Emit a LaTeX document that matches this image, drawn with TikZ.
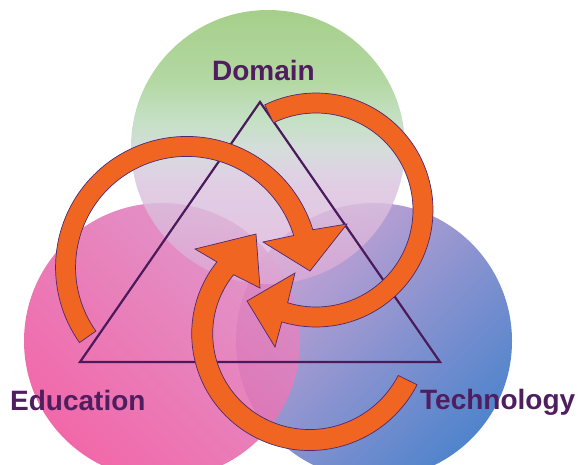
\documentclass[tikz,border=0pt]{standalone}
\usepackage{fontspec}
\setmainfont{Liberation Sans}
\usetikzlibrary{fadings}
\definecolor{labelpurple}{HTML}{501E5F}
\definecolor{tripurple}{HTML}{4B1A5B}
\definecolor{arroworange}{HTML}{F16522}
\definecolor{arrowedge}{HTML}{4E2870}
\definecolor{tb0}{HTML}{A6CF8A}
\definecolor{tb1}{HTML}{AED59C}
\definecolor{tb2}{HTML}{BEDDBE}
\definecolor{tb3}{HTML}{CFD8D6}
\definecolor{tb4}{HTML}{DAC6E0}
\definecolor{tb5}{HTML}{DEAAD6}
\definecolor{lc1}{HTML}{DC8CC6}
\definecolor{lc2}{HTML}{F058A0}
\definecolor{rc1}{HTML}{CCA4D4}
\definecolor{rc2}{HTML}{5084CC}
\pgfdeclareverticalshading{topshade}{100bp}{color(0bp)=(tb5); color(25bp)=(tb5); color(44bp)=(tb4); color(49.5bp)=(tb3); color(55bp)=(tb2); color(62bp)=(tb1); color(75bp)=(tb0); color(100bp)=(tb0)}
\tikzfading[name=topcirclefade, top color=transparent!0, middle color=transparent!0, bottom color=transparent!25]
\newcommand{\spiralarrow}[8]{%
  \filldraw[arrowpart]
   plot[domain=#3:#4, samples=100] ({#1+(#5+(#6-#5)*(\x-#3)/(#4-#3)+#7)*cos(\x)}, {#2+(#5+(#6-#5)*(\x-#3)/(#4-#3)+#7)*sin(\x)})
   -- #8 --
   plot[domain=#4:#3, samples=100] ({#1+(#5+(#6-#5)*(\x-#3)/(#4-#3)-#7)*cos(\x)}, {#2+(#5+(#6-#5)*(\x-#3)/(#4-#3)-#7)*sin(\x)})
   -- cycle;}
\begin{document}
\begin{tikzpicture}[x=1pt,y=-1pt,
  arrowpart/.style={fill=arroworange, draw=arrowedge, line width=0.7pt, line join=miter},
  triline/.style={draw=tripurple, line width=2.2pt, line join=miter},
  circlabel/.style={font=\fontsize{28}{30}\selectfont\bfseries, text=labelpurple, inner sep=0pt}]
\useasboundingbox (0,0) rectangle (578,464);
% circles
\shade[top color=rc1, bottom color=rc2, shading angle=45] (374,341) circle (138);
\shade[top color=lc1, bottom color=lc2, shading angle=-45, opacity=0.9] (162,341) circle (138);
\shade[shading=topshade, path fading=topcirclefade] (268,147) circle (137);
% triangle
\coordinate (apex) at (260,102);
\coordinate (bl) at (80,362);
\coordinate (br) at (440,362);
\draw[triline] (apex) -- (bl) -- (br) -- cycle;
% arrows
\spiralarrow{186}{268}{145}{343.2}{120}{122.5}{10}{(347,224) -- (310,271) -- (263,242)}
\spiralarrow{316}{210}{244}{467}{107}{107}{10}{(275,347) -- (247,301) -- (295,273)}
\spiralarrow{307}{331}{26}{217.5}{112}{103}{10.5}{(195,249) -- (256,234) -- (260,288)}
% labels
\node[circlabel, anchor=base] (domain) at (263.5,80) {Domain};
\node[circlabel, anchor=base west] (education) at (10,410) {Education};
\node[circlabel, anchor=base west] (technology) at (420,409) {Technology};
\end{tikzpicture}
\end{document}
